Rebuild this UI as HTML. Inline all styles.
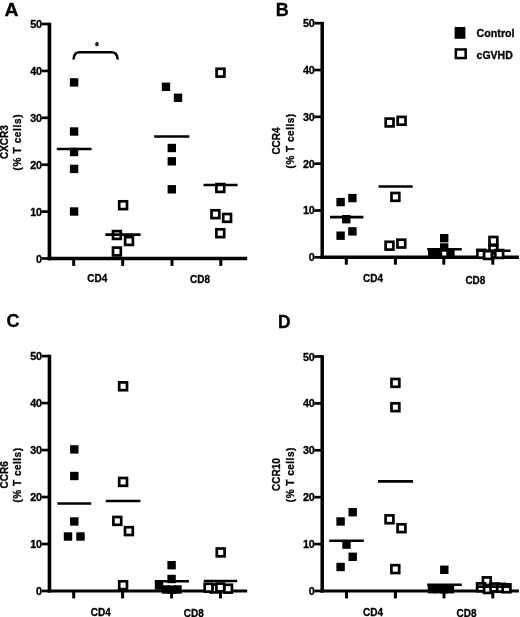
<!DOCTYPE html>
<html><head><meta charset="utf-8"><style>
html,body{margin:0;padding:0;background:#fff;width:520px;height:617px;overflow:hidden}
svg{display:block;will-change:transform}
</style></head><body>
<svg width="520" height="617" viewBox="0 0 520 617">
<rect width="520" height="617" fill="#fff"/>
<g>
<line x1="49.45" y1="22.7" x2="49.45" y2="260.35" stroke="#000" stroke-width="3.7"/>
<line x1="47.6" y1="258.5" x2="247.2" y2="258.5" stroke="#000" stroke-width="3.7"/>
<line x1="41.550000000000004" y1="258.50" x2="49.45" y2="258.50" stroke="#000" stroke-width="2.7"/>
<text transform="translate(41.75,262.50) scale(1.05,1)" font-size="10.3" text-anchor="end" letter-spacing="-0.2" font-family="Liberation Sans, sans-serif" font-weight="bold" stroke="#000" stroke-width="0.3">0</text>
<line x1="41.550000000000004" y1="211.60" x2="49.45" y2="211.60" stroke="#000" stroke-width="2.7"/>
<text transform="translate(41.75,215.60) scale(1.05,1)" font-size="10.3" text-anchor="end" letter-spacing="-0.2" font-family="Liberation Sans, sans-serif" font-weight="bold" stroke="#000" stroke-width="0.3">10</text>
<line x1="41.550000000000004" y1="164.70" x2="49.45" y2="164.70" stroke="#000" stroke-width="2.7"/>
<text transform="translate(41.75,168.70) scale(1.05,1)" font-size="10.3" text-anchor="end" letter-spacing="-0.2" font-family="Liberation Sans, sans-serif" font-weight="bold" stroke="#000" stroke-width="0.3">20</text>
<line x1="41.550000000000004" y1="117.80" x2="49.45" y2="117.80" stroke="#000" stroke-width="2.7"/>
<text transform="translate(41.75,121.80) scale(1.05,1)" font-size="10.3" text-anchor="end" letter-spacing="-0.2" font-family="Liberation Sans, sans-serif" font-weight="bold" stroke="#000" stroke-width="0.3">30</text>
<line x1="41.550000000000004" y1="70.90" x2="49.45" y2="70.90" stroke="#000" stroke-width="2.7"/>
<text transform="translate(41.75,74.90) scale(1.05,1)" font-size="10.3" text-anchor="end" letter-spacing="-0.2" font-family="Liberation Sans, sans-serif" font-weight="bold" stroke="#000" stroke-width="0.3">40</text>
<line x1="41.550000000000004" y1="24.00" x2="49.45" y2="24.00" stroke="#000" stroke-width="2.7"/>
<text transform="translate(41.75,28.00) scale(1.05,1)" font-size="10.3" text-anchor="end" letter-spacing="-0.2" font-family="Liberation Sans, sans-serif" font-weight="bold" stroke="#000" stroke-width="0.3">50</text>
<line x1="73.7" y1="258.5" x2="73.7" y2="265.9" stroke="#000" stroke-width="3.0"/>
<line x1="122.7" y1="258.5" x2="122.7" y2="265.9" stroke="#000" stroke-width="3.0"/>
<line x1="172.0" y1="258.5" x2="172.0" y2="265.9" stroke="#000" stroke-width="3.0"/>
<line x1="220.8" y1="258.5" x2="220.8" y2="265.9" stroke="#000" stroke-width="3.0"/>
<text transform="translate(87.3,281.8) scale(0.95,1)" font-size="10.5" font-family="Liberation Sans, sans-serif" font-weight="bold" stroke="#000" stroke-width="0.3">CD4</text>
<text transform="translate(190.0,283.1) scale(0.95,1)" font-size="10.5" font-family="Liberation Sans, sans-serif" font-weight="bold" stroke="#000" stroke-width="0.3">CD8</text>
<text transform="translate(7.6,142.1) rotate(-90)" x="0" y="0" font-size="10" text-anchor="middle" font-family="Liberation Sans, sans-serif" font-weight="bold" stroke="#000" stroke-width="0.3">CXCR3</text>
<text transform="translate(21.2,142.2) rotate(-90)" x="0" y="0" font-size="10" text-anchor="middle" letter-spacing="0.65" font-family="Liberation Sans, sans-serif" font-weight="bold" stroke="#000" stroke-width="0.3">(% T cells)</text>
<text transform="translate(4.6,16.3) scale(1.08,1)" font-size="18" font-family="Liberation Sans, sans-serif" font-weight="bold" stroke="#000" stroke-width="0.3">A</text>
<rect x="69.90" y="78.20" width="8.40" height="8.40" fill="#000"/>
<rect x="69.90" y="127.30" width="8.40" height="8.40" fill="#000"/>
<rect x="69.90" y="147.80" width="8.40" height="8.40" fill="#000"/>
<rect x="69.90" y="164.70" width="8.40" height="8.40" fill="#000"/>
<rect x="69.90" y="207.30" width="8.40" height="8.40" fill="#000"/>
<rect x="161.80" y="82.60" width="8.40" height="8.40" fill="#000"/>
<rect x="173.80" y="93.60" width="8.40" height="8.40" fill="#000"/>
<rect x="167.60" y="143.80" width="8.40" height="8.40" fill="#000"/>
<rect x="167.60" y="157.10" width="8.40" height="8.40" fill="#000"/>
<rect x="167.60" y="185.10" width="8.40" height="8.40" fill="#000"/>
<rect x="119.20" y="201.30" width="7.80" height="7.80" fill="#fff" stroke="#000" stroke-width="2.7"/>
<rect x="113.00" y="231.10" width="7.80" height="7.80" fill="#fff" stroke="#000" stroke-width="2.7"/>
<rect x="125.10" y="237.10" width="7.80" height="7.80" fill="#fff" stroke="#000" stroke-width="2.7"/>
<rect x="113.00" y="247.60" width="7.80" height="7.80" fill="#fff" stroke="#000" stroke-width="2.7"/>
<rect x="216.60" y="68.80" width="7.80" height="7.80" fill="#fff" stroke="#000" stroke-width="2.7"/>
<rect x="216.40" y="184.10" width="7.80" height="7.80" fill="#fff" stroke="#000" stroke-width="2.7"/>
<rect x="211.50" y="210.30" width="7.80" height="7.80" fill="#fff" stroke="#000" stroke-width="2.7"/>
<rect x="223.20" y="214.00" width="7.80" height="7.80" fill="#fff" stroke="#000" stroke-width="2.7"/>
<rect x="216.40" y="229.30" width="7.80" height="7.80" fill="#fff" stroke="#000" stroke-width="2.7"/>
<line x1="56.8" y1="149.0" x2="91.6" y2="149.0" stroke="#000" stroke-width="2.6" stroke-linecap="butt"/>
<line x1="105.3" y1="234.6" x2="140.6" y2="234.6" stroke="#000" stroke-width="2.6" stroke-linecap="butt"/>
<line x1="154.2" y1="136.5" x2="189.4" y2="136.5" stroke="#000" stroke-width="2.6" stroke-linecap="butt"/>
<line x1="203.5" y1="185.0" x2="237.6" y2="185.0" stroke="#000" stroke-width="2.6" stroke-linecap="butt"/>
<line x1="322.2" y1="21.9" x2="322.2" y2="259.05" stroke="#000" stroke-width="3.5"/>
<line x1="320.45" y1="257.3" x2="518.9" y2="257.3" stroke="#000" stroke-width="3.5"/>
<line x1="314.3" y1="257.30" x2="322.2" y2="257.30" stroke="#000" stroke-width="2.7"/>
<text transform="translate(314.50,261.30) scale(1.05,1)" font-size="10.3" text-anchor="end" letter-spacing="-0.2" font-family="Liberation Sans, sans-serif" font-weight="bold" stroke="#000" stroke-width="0.3">0</text>
<line x1="314.3" y1="210.48" x2="322.2" y2="210.48" stroke="#000" stroke-width="2.7"/>
<text transform="translate(314.50,214.48) scale(1.05,1)" font-size="10.3" text-anchor="end" letter-spacing="-0.2" font-family="Liberation Sans, sans-serif" font-weight="bold" stroke="#000" stroke-width="0.3">10</text>
<line x1="314.3" y1="163.66" x2="322.2" y2="163.66" stroke="#000" stroke-width="2.7"/>
<text transform="translate(314.50,167.66) scale(1.05,1)" font-size="10.3" text-anchor="end" letter-spacing="-0.2" font-family="Liberation Sans, sans-serif" font-weight="bold" stroke="#000" stroke-width="0.3">20</text>
<line x1="314.3" y1="116.84" x2="322.2" y2="116.84" stroke="#000" stroke-width="2.7"/>
<text transform="translate(314.50,120.84) scale(1.05,1)" font-size="10.3" text-anchor="end" letter-spacing="-0.2" font-family="Liberation Sans, sans-serif" font-weight="bold" stroke="#000" stroke-width="0.3">30</text>
<line x1="314.3" y1="70.02" x2="322.2" y2="70.02" stroke="#000" stroke-width="2.7"/>
<text transform="translate(314.50,74.02) scale(1.05,1)" font-size="10.3" text-anchor="end" letter-spacing="-0.2" font-family="Liberation Sans, sans-serif" font-weight="bold" stroke="#000" stroke-width="0.3">40</text>
<line x1="314.3" y1="23.20" x2="322.2" y2="23.20" stroke="#000" stroke-width="2.7"/>
<text transform="translate(314.50,27.20) scale(1.05,1)" font-size="10.3" text-anchor="end" letter-spacing="-0.2" font-family="Liberation Sans, sans-serif" font-weight="bold" stroke="#000" stroke-width="0.3">50</text>
<line x1="346.3" y1="257.3" x2="346.3" y2="264.7" stroke="#000" stroke-width="3.0"/>
<line x1="395.4" y1="257.3" x2="395.4" y2="264.7" stroke="#000" stroke-width="3.0"/>
<line x1="443.8" y1="257.3" x2="443.8" y2="264.7" stroke="#000" stroke-width="3.0"/>
<line x1="492.8" y1="257.3" x2="492.8" y2="264.7" stroke="#000" stroke-width="3.0"/>
<text transform="translate(363.1,281.8) scale(0.95,1)" font-size="10.5" font-family="Liberation Sans, sans-serif" font-weight="bold" stroke="#000" stroke-width="0.3">CD4</text>
<text transform="translate(465.4,283.5) scale(0.95,1)" font-size="10.5" font-family="Liberation Sans, sans-serif" font-weight="bold" stroke="#000" stroke-width="0.3">CD8</text>
<text transform="translate(279.5,141.0) rotate(-90)" x="0" y="0" font-size="10" text-anchor="middle" font-family="Liberation Sans, sans-serif" font-weight="bold" stroke="#000" stroke-width="0.3">CCR4</text>
<text transform="translate(293.5,140.9) rotate(-90)" x="0" y="0" font-size="10" text-anchor="middle" letter-spacing="0.5" font-family="Liberation Sans, sans-serif" font-weight="bold" stroke="#000" stroke-width="0.3">(% T cells)</text>
<text transform="translate(275.7,16.0) scale(1.0,1)" font-size="18" font-family="Liberation Sans, sans-serif" font-weight="bold" stroke="#000" stroke-width="0.3">B</text>
<rect x="336.40" y="197.90" width="8.40" height="8.40" fill="#000"/>
<rect x="348.20" y="193.90" width="8.40" height="8.40" fill="#000"/>
<rect x="342.10" y="215.00" width="8.40" height="8.40" fill="#000"/>
<rect x="348.20" y="227.20" width="8.40" height="8.40" fill="#000"/>
<rect x="336.40" y="231.50" width="8.40" height="8.40" fill="#000"/>
<rect x="440.00" y="234.00" width="8.40" height="8.40" fill="#000"/>
<rect x="440.00" y="243.30" width="8.40" height="8.40" fill="#000"/>
<rect x="428.00" y="249.30" width="8.40" height="8.40" fill="#000"/>
<rect x="433.80" y="249.30" width="8.40" height="8.40" fill="#000"/>
<rect x="446.30" y="249.30" width="8.40" height="8.40" fill="#000"/>
<rect x="385.70" y="118.60" width="7.80" height="7.80" fill="#fff" stroke="#000" stroke-width="2.7"/>
<rect x="397.70" y="116.90" width="7.80" height="7.80" fill="#fff" stroke="#000" stroke-width="2.7"/>
<rect x="391.50" y="193.00" width="7.80" height="7.80" fill="#fff" stroke="#000" stroke-width="2.7"/>
<rect x="385.60" y="241.80" width="7.80" height="7.80" fill="#fff" stroke="#000" stroke-width="2.7"/>
<rect x="397.40" y="239.70" width="7.80" height="7.80" fill="#fff" stroke="#000" stroke-width="2.7"/>
<rect x="489.50" y="237.00" width="7.80" height="7.80" fill="#fff" stroke="#000" stroke-width="2.7"/>
<rect x="489.50" y="245.50" width="7.80" height="7.80" fill="#fff" stroke="#000" stroke-width="2.7"/>
<rect x="477.40" y="249.90" width="7.80" height="7.80" fill="#fff" stroke="#000" stroke-width="2.7"/>
<rect x="484.10" y="251.10" width="7.80" height="7.80" fill="#fff" stroke="#000" stroke-width="2.7"/>
<rect x="495.30" y="250.10" width="7.80" height="7.80" fill="#fff" stroke="#000" stroke-width="2.7"/>
<line x1="330.0" y1="217.1" x2="363.4" y2="217.1" stroke="#000" stroke-width="2.6" stroke-linecap="butt"/>
<line x1="378.5" y1="186.5" x2="412.7" y2="186.5" stroke="#000" stroke-width="2.6" stroke-linecap="butt"/>
<line x1="427.2" y1="249.3" x2="461.8" y2="249.3" stroke="#000" stroke-width="2.6" stroke-linecap="butt"/>
<line x1="476.3" y1="250.8" x2="510.5" y2="250.8" stroke="#000" stroke-width="2.6" stroke-linecap="butt"/>
<line x1="49.45" y1="354.8" x2="49.45" y2="592.6" stroke="#000" stroke-width="3.6"/>
<line x1="47.650000000000006" y1="591.0" x2="247.2" y2="591.0" stroke="#000" stroke-width="3.2"/>
<line x1="41.550000000000004" y1="591.00" x2="49.45" y2="591.00" stroke="#000" stroke-width="2.7"/>
<text transform="translate(41.75,595.00) scale(1.05,1)" font-size="10.3" text-anchor="end" letter-spacing="-0.2" font-family="Liberation Sans, sans-serif" font-weight="bold" stroke="#000" stroke-width="0.3">0</text>
<line x1="41.550000000000004" y1="544.02" x2="49.45" y2="544.02" stroke="#000" stroke-width="2.7"/>
<text transform="translate(41.75,548.02) scale(1.05,1)" font-size="10.3" text-anchor="end" letter-spacing="-0.2" font-family="Liberation Sans, sans-serif" font-weight="bold" stroke="#000" stroke-width="0.3">10</text>
<line x1="41.550000000000004" y1="497.04" x2="49.45" y2="497.04" stroke="#000" stroke-width="2.7"/>
<text transform="translate(41.75,501.04) scale(1.05,1)" font-size="10.3" text-anchor="end" letter-spacing="-0.2" font-family="Liberation Sans, sans-serif" font-weight="bold" stroke="#000" stroke-width="0.3">20</text>
<line x1="41.550000000000004" y1="450.06" x2="49.45" y2="450.06" stroke="#000" stroke-width="2.7"/>
<text transform="translate(41.75,454.06) scale(1.05,1)" font-size="10.3" text-anchor="end" letter-spacing="-0.2" font-family="Liberation Sans, sans-serif" font-weight="bold" stroke="#000" stroke-width="0.3">30</text>
<line x1="41.550000000000004" y1="403.08" x2="49.45" y2="403.08" stroke="#000" stroke-width="2.7"/>
<text transform="translate(41.75,407.08) scale(1.05,1)" font-size="10.3" text-anchor="end" letter-spacing="-0.2" font-family="Liberation Sans, sans-serif" font-weight="bold" stroke="#000" stroke-width="0.3">40</text>
<line x1="41.550000000000004" y1="356.10" x2="49.45" y2="356.10" stroke="#000" stroke-width="2.7"/>
<text transform="translate(41.75,360.10) scale(1.05,1)" font-size="10.3" text-anchor="end" letter-spacing="-0.2" font-family="Liberation Sans, sans-serif" font-weight="bold" stroke="#000" stroke-width="0.3">50</text>
<line x1="73.7" y1="591.0" x2="73.7" y2="598.4" stroke="#000" stroke-width="3.0"/>
<line x1="122.6" y1="591.0" x2="122.6" y2="598.4" stroke="#000" stroke-width="3.0"/>
<line x1="171.6" y1="591.0" x2="171.6" y2="598.4" stroke="#000" stroke-width="3.0"/>
<line x1="220.5" y1="591.0" x2="220.5" y2="598.4" stroke="#000" stroke-width="3.0"/>
<text transform="translate(90.8,615.9) scale(0.95,1)" font-size="10.5" font-family="Liberation Sans, sans-serif" font-weight="bold" stroke="#000" stroke-width="0.3">CD4</text>
<text transform="translate(183.8,617.0) scale(0.95,1)" font-size="10.5" font-family="Liberation Sans, sans-serif" font-weight="bold" stroke="#000" stroke-width="0.3">CD8</text>
<text transform="translate(7.6,474.8) rotate(-90)" x="0" y="0" font-size="10" text-anchor="middle" font-family="Liberation Sans, sans-serif" font-weight="bold" stroke="#000" stroke-width="0.3">CCR6</text>
<text transform="translate(20.8,475.0) rotate(-90)" x="0" y="0" font-size="10" text-anchor="middle" letter-spacing="0.5" font-family="Liberation Sans, sans-serif" font-weight="bold" stroke="#000" stroke-width="0.3">(% T cells)</text>
<text transform="translate(6.5,326.7) scale(1.0,1)" font-size="18" font-family="Liberation Sans, sans-serif" font-weight="bold" stroke="#000" stroke-width="0.3">C</text>
<rect x="70.10" y="445.20" width="8.40" height="8.40" fill="#000"/>
<rect x="70.10" y="471.80" width="8.40" height="8.40" fill="#000"/>
<rect x="70.10" y="517.30" width="8.40" height="8.40" fill="#000"/>
<rect x="63.80" y="532.30" width="8.40" height="8.40" fill="#000"/>
<rect x="76.30" y="532.30" width="8.40" height="8.40" fill="#000"/>
<rect x="167.40" y="561.00" width="8.40" height="8.40" fill="#000"/>
<rect x="167.40" y="574.80" width="8.40" height="8.40" fill="#000"/>
<rect x="154.80" y="581.30" width="8.40" height="8.40" fill="#000"/>
<rect x="161.80" y="585.30" width="8.40" height="8.40" fill="#000"/>
<rect x="167.80" y="585.50" width="8.40" height="8.40" fill="#000"/>
<rect x="173.30" y="585.30" width="8.40" height="8.40" fill="#000"/>
<rect x="119.20" y="382.40" width="7.80" height="7.80" fill="#fff" stroke="#000" stroke-width="2.7"/>
<rect x="119.20" y="478.00" width="7.80" height="7.80" fill="#fff" stroke="#000" stroke-width="2.7"/>
<rect x="113.40" y="517.00" width="7.80" height="7.80" fill="#fff" stroke="#000" stroke-width="2.7"/>
<rect x="125.00" y="527.20" width="7.80" height="7.80" fill="#fff" stroke="#000" stroke-width="2.7"/>
<rect x="119.20" y="581.30" width="7.80" height="7.80" fill="#fff" stroke="#000" stroke-width="2.7"/>
<rect x="216.80" y="548.50" width="7.80" height="7.80" fill="#fff" stroke="#000" stroke-width="2.7"/>
<rect x="224.10" y="584.80" width="7.80" height="7.80" fill="#fff" stroke="#000" stroke-width="2.7"/>
<rect x="210.60" y="584.60" width="7.80" height="7.80" fill="#fff" stroke="#000" stroke-width="2.7"/>
<rect x="204.70" y="583.80" width="7.80" height="7.80" fill="#fff" stroke="#000" stroke-width="2.7"/>
<rect x="216.40" y="583.60" width="7.80" height="7.80" fill="#fff" stroke="#000" stroke-width="2.7"/>
<line x1="57.3" y1="503.5" x2="91.3" y2="503.5" stroke="#000" stroke-width="2.6" stroke-linecap="butt"/>
<line x1="105.8" y1="501.0" x2="140.4" y2="501.0" stroke="#000" stroke-width="2.6" stroke-linecap="butt"/>
<line x1="154.8" y1="581.3" x2="188.9" y2="581.3" stroke="#000" stroke-width="2.6" stroke-linecap="butt"/>
<line x1="203.8" y1="581.0" x2="237.2" y2="581.0" stroke="#000" stroke-width="2.6" stroke-linecap="butt"/>
<line x1="322.2" y1="355.2" x2="322.2" y2="592.6" stroke="#000" stroke-width="3.5"/>
<line x1="320.45" y1="591.0" x2="518.9" y2="591.0" stroke="#000" stroke-width="3.2"/>
<line x1="314.3" y1="591.00" x2="322.2" y2="591.00" stroke="#000" stroke-width="2.7"/>
<text transform="translate(314.50,595.00) scale(1.05,1)" font-size="10.3" text-anchor="end" letter-spacing="-0.2" font-family="Liberation Sans, sans-serif" font-weight="bold" stroke="#000" stroke-width="0.3">0</text>
<line x1="314.3" y1="544.10" x2="322.2" y2="544.10" stroke="#000" stroke-width="2.7"/>
<text transform="translate(314.50,548.10) scale(1.05,1)" font-size="10.3" text-anchor="end" letter-spacing="-0.2" font-family="Liberation Sans, sans-serif" font-weight="bold" stroke="#000" stroke-width="0.3">10</text>
<line x1="314.3" y1="497.20" x2="322.2" y2="497.20" stroke="#000" stroke-width="2.7"/>
<text transform="translate(314.50,501.20) scale(1.05,1)" font-size="10.3" text-anchor="end" letter-spacing="-0.2" font-family="Liberation Sans, sans-serif" font-weight="bold" stroke="#000" stroke-width="0.3">20</text>
<line x1="314.3" y1="450.30" x2="322.2" y2="450.30" stroke="#000" stroke-width="2.7"/>
<text transform="translate(314.50,454.30) scale(1.05,1)" font-size="10.3" text-anchor="end" letter-spacing="-0.2" font-family="Liberation Sans, sans-serif" font-weight="bold" stroke="#000" stroke-width="0.3">30</text>
<line x1="314.3" y1="403.40" x2="322.2" y2="403.40" stroke="#000" stroke-width="2.7"/>
<text transform="translate(314.50,407.40) scale(1.05,1)" font-size="10.3" text-anchor="end" letter-spacing="-0.2" font-family="Liberation Sans, sans-serif" font-weight="bold" stroke="#000" stroke-width="0.3">40</text>
<line x1="314.3" y1="356.50" x2="322.2" y2="356.50" stroke="#000" stroke-width="2.7"/>
<text transform="translate(314.50,360.50) scale(1.05,1)" font-size="10.3" text-anchor="end" letter-spacing="-0.2" font-family="Liberation Sans, sans-serif" font-weight="bold" stroke="#000" stroke-width="0.3">50</text>
<line x1="346.5" y1="591.0" x2="346.5" y2="598.4" stroke="#000" stroke-width="3.0"/>
<line x1="395.4" y1="591.0" x2="395.4" y2="598.4" stroke="#000" stroke-width="3.0"/>
<line x1="444.0" y1="591.0" x2="444.0" y2="598.4" stroke="#000" stroke-width="3.0"/>
<line x1="492.8" y1="591.0" x2="492.8" y2="598.4" stroke="#000" stroke-width="3.0"/>
<text transform="translate(363.1,615.9) scale(0.95,1)" font-size="10.5" font-family="Liberation Sans, sans-serif" font-weight="bold" stroke="#000" stroke-width="0.3">CD4</text>
<text transform="translate(456.5,617.0) scale(0.95,1)" font-size="10.5" font-family="Liberation Sans, sans-serif" font-weight="bold" stroke="#000" stroke-width="0.3">CD8</text>
<text transform="translate(279.5,474.6) rotate(-90)" x="0" y="0" font-size="10" text-anchor="middle" font-family="Liberation Sans, sans-serif" font-weight="bold" stroke="#000" stroke-width="0.3">CCR10</text>
<text transform="translate(293.5,474.7) rotate(-90)" x="0" y="0" font-size="10" text-anchor="middle" letter-spacing="0.5" font-family="Liberation Sans, sans-serif" font-weight="bold" stroke="#000" stroke-width="0.3">(% T cells)</text>
<text transform="translate(278.0,328.2) scale(0.96,1)" font-size="18" font-family="Liberation Sans, sans-serif" font-weight="bold" stroke="#000" stroke-width="0.3">D</text>
<rect x="348.50" y="508.00" width="8.40" height="8.40" fill="#000"/>
<rect x="336.40" y="517.30" width="8.40" height="8.40" fill="#000"/>
<rect x="342.30" y="540.40" width="8.40" height="8.40" fill="#000"/>
<rect x="348.50" y="552.60" width="8.40" height="8.40" fill="#000"/>
<rect x="336.40" y="562.80" width="8.40" height="8.40" fill="#000"/>
<rect x="440.10" y="565.60" width="8.40" height="8.40" fill="#000"/>
<rect x="427.80" y="585.00" width="8.40" height="8.40" fill="#000"/>
<rect x="433.80" y="585.00" width="8.40" height="8.40" fill="#000"/>
<rect x="439.80" y="585.00" width="8.40" height="8.40" fill="#000"/>
<rect x="445.80" y="585.00" width="8.40" height="8.40" fill="#000"/>
<rect x="391.50" y="379.00" width="7.80" height="7.80" fill="#fff" stroke="#000" stroke-width="2.7"/>
<rect x="391.50" y="403.30" width="7.80" height="7.80" fill="#fff" stroke="#000" stroke-width="2.7"/>
<rect x="385.60" y="515.40" width="7.80" height="7.80" fill="#fff" stroke="#000" stroke-width="2.7"/>
<rect x="397.60" y="524.30" width="7.80" height="7.80" fill="#fff" stroke="#000" stroke-width="2.7"/>
<rect x="391.40" y="565.20" width="7.80" height="7.80" fill="#fff" stroke="#000" stroke-width="2.7"/>
<rect x="482.90" y="577.40" width="7.80" height="7.80" fill="#fff" stroke="#000" stroke-width="2.7"/>
<rect x="477.10" y="583.40" width="7.80" height="7.80" fill="#fff" stroke="#000" stroke-width="2.7"/>
<rect x="484.10" y="585.10" width="7.80" height="7.80" fill="#fff" stroke="#000" stroke-width="2.7"/>
<rect x="490.60" y="583.60" width="7.80" height="7.80" fill="#fff" stroke="#000" stroke-width="2.7"/>
<rect x="497.10" y="583.90" width="7.80" height="7.80" fill="#fff" stroke="#000" stroke-width="2.7"/>
<rect x="502.60" y="584.40" width="7.80" height="7.80" fill="#fff" stroke="#000" stroke-width="2.7"/>
<line x1="329.2" y1="540.7" x2="363.8" y2="540.7" stroke="#000" stroke-width="2.6" stroke-linecap="butt"/>
<line x1="377.9" y1="481.4" x2="413.1" y2="481.4" stroke="#000" stroke-width="2.6" stroke-linecap="butt"/>
<line x1="427.2" y1="584.7" x2="461.8" y2="584.7" stroke="#000" stroke-width="2.6" stroke-linecap="butt"/>
<line x1="476.0" y1="586.6" x2="510.5" y2="586.6" stroke="#000" stroke-width="2.6" stroke-linecap="butt"/>
<path d="M73.6,58.6 Q74.2,52.3 79.8,52.3 L111.4,52.3 Q117.0,52.3 117.6,58.6" fill="none" stroke="#000" stroke-width="2.4" stroke-linecap="round"/>
<text x="97.0" y="49.5" font-size="10" text-anchor="middle" font-family="Liberation Sans, sans-serif" font-weight="bold" stroke="#000" stroke-width="0.3" >*</text>
<rect x="454.6" y="27" width="10.8" height="11.8" fill="#000"/>
<rect x="455.85" y="49.45" width="9.8" height="8.6" fill="#fff" stroke="#000" stroke-width="2.5"/>
<text x="476.6" y="37.2" font-size="10.7" text-anchor="start" font-family="Liberation Sans, sans-serif" font-weight="bold" stroke="#000" stroke-width="0.3" >Control</text>
<text x="476.6" y="58.5" font-size="10.5" text-anchor="start" font-family="Liberation Sans, sans-serif" font-weight="bold" stroke="#000" stroke-width="0.3" >cGVHD</text>
</g>
</svg>
</body></html>
